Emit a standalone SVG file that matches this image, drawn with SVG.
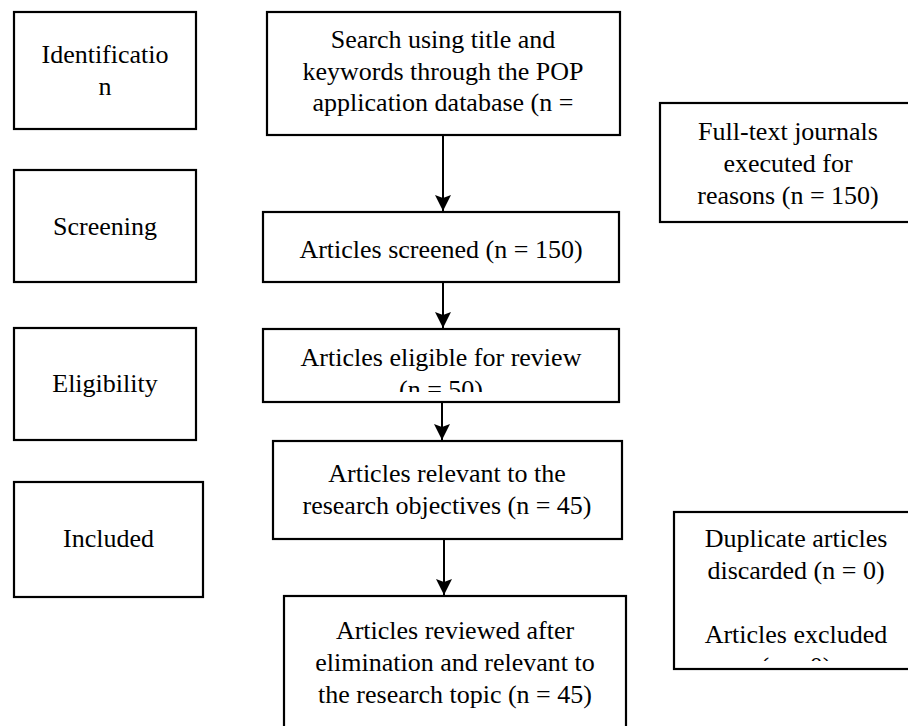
<svg xmlns="http://www.w3.org/2000/svg" width="908" height="726" viewBox="0 0 908 726">
<style>
.box{fill:#fff;stroke:#000;stroke-width:2.2}
.t{font-family:"Liberation Serif","Times New Roman",serif;font-size:26px;fill:#000;text-anchor:middle}
.c{stroke:#000;stroke-width:2;fill:none}
</style>
<defs>
<marker id="ah" markerUnits="userSpaceOnUse" markerWidth="18" markerHeight="18" refX="16" refY="8" orient="auto">
<path d="M0,0 L16,8 L0,16 L3,8 Z" fill="#000"/>
</marker>
<clipPath id="clipElig"><rect x="263" y="329" width="356" height="63"/></clipPath>
<clipPath id="clipDup"><rect x="674" y="512" width="240" height="149"/></clipPath>
</defs>
<rect width="908" height="726" fill="#fff"/>
<g id="identification">
<rect class="box" x="14" y="12" width="182" height="117"/>
<text class="t" x="105" y="63">Identificatio</text>
<text class="t" x="105" y="95">n</text>
</g>
<g id="screening">
<rect class="box" x="14" y="170" width="182" height="112"/>
<text class="t" x="105" y="235">Screening</text>
</g>
<g id="eligibility">
<rect class="box" x="14" y="328" width="182" height="112"/>
<text class="t" x="105" y="392">Eligibility</text>
</g>
<g id="included">
<rect class="box" x="14" y="482" width="189" height="115"/>
<text class="t" x="108.5" y="547">Included</text>
</g>
<g id="search">
<rect class="box" x="267" y="12" width="353" height="123"/>
<text class="t" x="443" y="48">Search using title and</text>
<text class="t" x="443" y="80">keywords through the POP</text>
<text class="t" x="443" y="111">application database (n =</text>
</g>
<g id="screened">
<rect class="box" x="263" y="212" width="356" height="70"/>
<text class="t" x="441" y="258">Articles screened (n = 150)</text>
</g>
<g id="eligible">
<rect class="box" x="263" y="329" width="356" height="73"/>
<g clip-path="url(#clipElig)">
<text class="t" x="441" y="366">Articles eligible for review</text>
<text class="t" x="441" y="398">(n = 50)</text>
</g>
</g>
<g id="relevant">
<rect class="box" x="273" y="441" width="349" height="98"/>
<text class="t" x="447" y="482">Articles relevant to the</text>
<text class="t" x="447" y="514">research objectives (n = 45)</text>
</g>
<g id="reviewed">
<rect class="box" x="284" y="596" width="342" height="150"/>
<text class="t" x="455" y="639">Articles reviewed after</text>
<text class="t" x="455" y="671">elimination and relevant to</text>
<text class="t" x="455" y="703">the research topic (n = 45)</text>
</g>
<g id="fulltext">
<rect class="box" x="660" y="103" width="256" height="119"/>
<text class="t" x="788" y="140">Full-text journals</text>
<text class="t" x="788" y="172">executed for</text>
<text class="t" x="788" y="204">reasons (n = 150)</text>
</g>
<g id="duplicate">
<rect class="box" x="674" y="512" width="244" height="157"/>
<g clip-path="url(#clipDup)">
<text class="t" x="796" y="547">Duplicate articles</text>
<text class="t" x="796" y="579">discarded (n = 0)</text>
<text class="t" x="796" y="643">Articles excluded</text>
<text class="t" x="796" y="675">(n = 0)</text>
</g>
</g>
<g id="connectors">
<line class="c" x1="443" y1="136" x2="443" y2="211" marker-end="url(#ah)"/>
<line class="c" x1="443" y1="283" x2="443" y2="328" marker-end="url(#ah)"/>
<line class="c" x1="442" y1="403" x2="442" y2="440" marker-end="url(#ah)"/>
<line class="c" x1="444" y1="540" x2="444" y2="595" marker-end="url(#ah)"/>
</g>
</svg>
